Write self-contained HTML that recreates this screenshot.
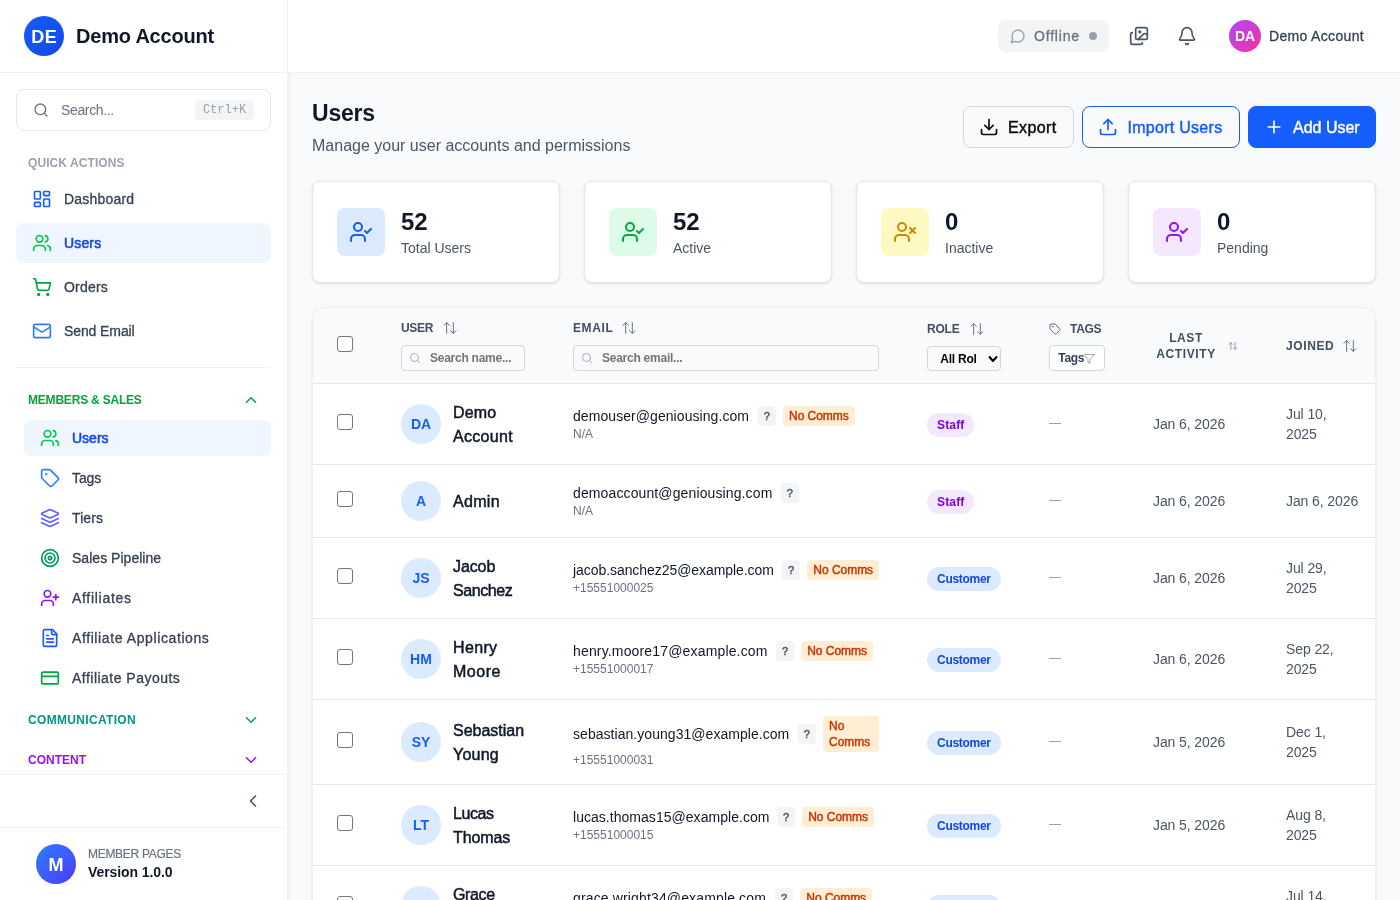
<!DOCTYPE html>
<html lang="en">
<head>
<meta charset="utf-8">
<title>Users</title>
<style>
*{box-sizing:border-box;margin:0;padding:0}
html,body{width:1400px;height:900px;overflow:hidden;background:#f9fafb;font-family:"Liberation Sans",sans-serif;color:#101828}
.abs{position:absolute}
svg{display:block}
.ic{fill:none;stroke:currentColor;stroke-width:2;stroke-linecap:round;stroke-linejoin:round}
/* ---------- sidebar ---------- */
#sidebar{will-change:transform;position:absolute;left:0;top:0;width:288px;height:900px;background:#fff;border-right:1px solid #f1f2f4;box-shadow:1px 0 5px rgba(0,0,0,.07);z-index:1}
#sb-head{position:absolute;left:0;top:0;width:287px;height:73px;border-bottom:1px solid #f1f2f4}
.logo{position:absolute;left:24px;top:16px;width:40px;height:40px;border-radius:50%;background:linear-gradient(135deg,#155dfc,#1447e6);color:#fff;font-weight:700;font-size:18px;line-height:42px;text-align:center;letter-spacing:.5px;text-indent:.5px}
.brand{position:absolute;left:76px;top:22px;font-size:20px;font-weight:700;line-height:28px;color:#101828;white-space:nowrap;letter-spacing:-.2px}
.sb-search{position:absolute;left:16px;top:89px;width:255px;height:42px;border:1px solid #e5e7eb;border-radius:8px;background:#fff}
.sb-search .ph{position:absolute;left:44px;top:10px;font-size:14px;line-height:20px;color:#6a7282;white-space:nowrap;letter-spacing:-.35px}
.kbd{position:absolute;left:178px;top:10px;width:59px;height:20px;border-radius:4px;background:#f3f4f6;color:#99a1af;font-family:"Liberation Mono",monospace;font-size:12px;line-height:20px;text-align:center}
.sec{position:absolute;left:28px;font-size:12px;line-height:16px;font-weight:700;letter-spacing:.5px;white-space:nowrap}
.nav{position:absolute;left:16px;width:255px;height:40px;border-radius:8px}
.nav svg{position:absolute;left:16px;top:10px;width:20px;height:20px}
.nav span{position:absolute;left:48px;top:10px;font-size:14px;line-height:20px;font-weight:400;color:#364153;white-space:nowrap;-webkit-text-stroke:.3px currentColor}
.nav.on{background:#eff6ff}
.nav.on span{color:#1447e6;-webkit-text-stroke:.55px currentColor}
.sub{position:absolute;left:24px;width:247px;height:36px;border-radius:8px}
.sub svg{position:absolute;left:16px;top:8px;width:20px;height:20px}
.sub span{position:absolute;left:48px;top:8px;font-size:14px;line-height:20px;color:#364153;white-space:nowrap;-webkit-text-stroke:.3px currentColor}
.sub.on{background:#eff6ff}
.sub.on span{color:#1447e6;-webkit-text-stroke:.55px currentColor}
.hr{position:absolute;height:1px;background:#f1f2f4}
/* ---------- top bar ---------- */
#topbar{will-change:transform;position:absolute;left:288px;top:0;width:1112px;height:73px;background:#fff;border-bottom:1px solid #f1f2f4;z-index:2}
/* ---------- main ---------- */
#main{will-change:transform;position:absolute;left:288px;top:73px;width:1112px;height:827px;overflow:hidden}

.pill{position:absolute;left:710px;top:20px;width:111px;height:32px;border-radius:8px;background:#f3f4f6}
.pill span{position:absolute;left:36px;top:6px;font-size:14px;line-height:20px;color:#6a7282;white-space:nowrap;-webkit-text-stroke:.3px currentColor}
.pill i{position:absolute;left:91px;top:12px;width:8px;height:8px;border-radius:50%;background:#99a1af}
.avatar{position:absolute;left:941px;top:20px;width:32px;height:32px;border-radius:50%;background:linear-gradient(135deg,#ad46ff,#f6339a);color:#fff;font-size:14px;font-weight:700;line-height:32px;text-align:center}
.uname{position:absolute;left:981px;top:26px;font-size:14px;line-height:20px;color:#364153;white-space:nowrap;letter-spacing:.33px;-webkit-text-stroke:.3px currentColor}
h1{position:absolute;left:24px;top:24px;font-size:23px;line-height:32px;font-weight:700;color:#101828;letter-spacing:-.2px}
.subt{position:absolute;left:24px;top:61px;font-size:16px;line-height:24px;color:#4a5565;white-space:nowrap}
.btn{position:absolute;top:33px;height:42px;border-radius:8px;font-size:16px;line-height:24px;white-space:nowrap}
.btn svg{position:absolute;top:10px;width:20px;height:20px}
.btn span{position:absolute;top:9px;-webkit-text-stroke:.45px currentColor}
.card{position:absolute;top:108px;width:248px;height:102px;background:#fff;border:1px solid #e5e7eb;border-radius:8px;box-shadow:0 1px 3px rgba(0,0,0,.1),0 1px 2px -1px rgba(0,0,0,.1)}
.card .ib{position:absolute;left:24px;top:26px;width:48px;height:48px;border-radius:8px}
.card .ib svg{position:absolute;left:12px;top:12px;width:24px;height:24px}
.card .num{position:absolute;left:88px;top:24px;font-size:24px;line-height:32px;font-weight:700;color:#101828}
.card .lbl{position:absolute;left:88px;top:56px;font-size:14px;line-height:20px;color:#4a5565;white-space:nowrap}
/*TBLCSS*/
#tbl{position:absolute;left:24px;top:234px;width:1064px;height:700px;background:#fff;border:1px solid #eff0f3;border-radius:12px;overflow:hidden;box-shadow:0 1px 3px rgba(0,0,0,.06)}
#thead{position:absolute;left:0;top:0;width:1062px;height:76px;background:#f9fafb;border-bottom:1px solid #e5e7eb}
.th{position:absolute;font-size:12px;line-height:16px;font-weight:700;letter-spacing:.6px;color:#414e60;white-space:nowrap}
.si{position:absolute;width:16px;height:16px;color:#6a7282;stroke-width:1.5}
.cb{position:absolute;left:24px;width:16px;height:16px;border:1px solid #767676;border-radius:3px;background:#fff}
.fin{position:absolute;height:26px;border:1px solid #d1d5dc;border-radius:4px;background:transparent}
.fin svg{position:absolute;left:7px;top:6px;width:12px;height:12px;color:#99a1af;stroke-width:1.8}
.fin span{position:absolute;left:28px;top:4px;font-size:12px;line-height:16px;font-weight:700;color:#757575;white-space:nowrap;letter-spacing:-.25px}
.tr{position:absolute;left:0;width:1062px;border-bottom:1px solid #e5e7eb}
.av{position:absolute;left:88px;width:40px;height:40px;border-radius:50%;background:#dbeafe;color:#155dfc;font-size:14px;font-weight:700;line-height:40px;text-align:center}
.nm{position:absolute;left:140px;font-size:16px;line-height:24px;color:#101828;white-space:nowrap;-webkit-text-stroke:.5px currentColor}
.nm span{display:block}
.em{position:absolute;left:260px;font-size:14px;line-height:20px;color:#101828;white-space:nowrap}
.ph2{position:absolute;left:260px;font-size:12px;line-height:16px;color:#6a7282;white-space:nowrap}
.q{position:absolute;width:17.5px;height:20px;border-radius:4px;background:#f3f4f6;color:#4a5565;font-size:11px;font-weight:400;-webkit-text-stroke:.45px currentColor;line-height:20px;text-align:center}
.nc{position:absolute;border-radius:4px;background:#ffedd4;color:#ca3500;font-size:12px;line-height:16px;padding:2px 6px;-webkit-text-stroke:.45px currentColor;letter-spacing:-.03px}
.role{position:absolute;left:614px;height:24px;border-radius:12px;font-size:12px;line-height:24px;font-weight:700;padding:0 10px;white-space:nowrap}
.role.staff{background:#f3e8ff;color:#8200db}
.role.cust{background:#dbeafe;color:#1447e6}
.dash{position:absolute;left:736px;width:12px;height:1px;background:#99a1af}
.dt{position:absolute;font-size:14px;line-height:20px;color:#4a5565;white-space:nowrap;letter-spacing:-.1px}
/*ENDTBLCSS*/
</style>
</head>
<body>
<div id="sidebar">
  <div id="sb-head">
    <div class="logo">DE</div>
    <div class="brand">Demo Account</div>
  </div>
  <div class="sb-search">
    <svg class="ic abs" style="left:16px;top:12px;width:16px;height:16px;color:#6a7282" viewBox="0 0 24 24"><circle cx="11" cy="11" r="8"/><path d="m21 21-4.3-4.3"/></svg>
    <div class="ph">Search...</div>
    <div class="kbd">Ctrl+K</div>
  </div>
  <div class="sec" style="top:155px;color:#99a1af;letter-spacing:.08px">QUICK ACTIONS</div>

  <div class="nav" style="top:179px">
    <svg class="ic" style="color:#155dfc" viewBox="0 0 24 24"><rect width="7" height="9" x="3" y="3" rx="1"/><rect width="7" height="5" x="14" y="3" rx="1"/><rect width="7" height="9" x="14" y="12" rx="1"/><rect width="7" height="5" x="3" y="16" rx="1"/></svg>
    <span style="letter-spacing:.2px">Dashboard</span>
  </div>
  <div class="nav on" style="top:223px">
    <svg class="ic" style="color:#00c950" viewBox="0 0 24 24"><path d="M16 21v-2a4 4 0 0 0-4-4H6a4 4 0 0 0-4 4v2"/><circle cx="9" cy="7" r="4"/><path d="M22 21v-2a4 4 0 0 0-3-3.87"/><path d="M16 3.13a4 4 0 0 1 0 7.75"/></svg>
    <span style="letter-spacing:.15px">Users</span>
  </div>
  <div class="nav" style="top:267px">
    <svg class="ic" style="color:#00a63e" viewBox="0 0 24 24"><circle cx="8" cy="21" r="1"/><circle cx="19" cy="21" r="1"/><path d="M2.05 2.05h2l2.66 12.42a2 2 0 0 0 2 1.58h9.78a2 2 0 0 0 1.95-1.57l1.65-7.43H5.12"/></svg>
    <span style="letter-spacing:.2px">Orders</span>
  </div>
  <div class="nav" style="top:311px">
    <svg class="ic" style="color:#2b7fff" viewBox="0 0 24 24"><rect width="20" height="16" x="2" y="4" rx="2"/><path d="m22 7-8.97 5.7a1.94 1.94 0 0 1-2.06 0L2 7"/></svg>
    <span style="letter-spacing:-.1px">Send Email</span>
  </div>

  <div class="hr" style="left:16px;top:367px;width:255px"></div>
  <div class="sec" style="top:392px;color:#00a63e;letter-spacing:-.2px">MEMBERS &amp; SALES</div>
  <svg class="ic abs" style="left:242px;top:391px;width:18px;height:18px;color:#00a63e" viewBox="0 0 24 24"><path d="m18 15-6-6-6 6"/></svg>

  <div class="sub on" style="top:420px">
    <svg class="ic" style="color:#00c950" viewBox="0 0 24 24"><path d="M16 21v-2a4 4 0 0 0-4-4H6a4 4 0 0 0-4 4v2"/><circle cx="9" cy="7" r="4"/><path d="M22 21v-2a4 4 0 0 0-3-3.87"/><path d="M16 3.13a4 4 0 0 1 0 7.75"/></svg>
    <span style="letter-spacing:0">Users</span>
  </div>
  <div class="sub" style="top:460px">
    <svg class="ic" style="color:#2b7fff" viewBox="0 0 24 24"><path d="M12.586 2.586A2 2 0 0 0 11.172 2H4a2 2 0 0 0-2 2v7.172a2 2 0 0 0 .586 1.414l8.704 8.704a2.426 2.426 0 0 0 3.42 0l6.58-6.58a2.426 2.426 0 0 0 0-3.42z"/><circle cx="7.5" cy="7.5" r=".5" fill="currentColor"/></svg>
    <span style="letter-spacing:-.1px">Tags</span>
  </div>
  <div class="sub" style="top:500px">
    <svg class="ic" style="color:#615fff" viewBox="0 0 24 24"><path d="m12.83 2.18a2 2 0 0 0-1.66 0L2.6 6.08a1 1 0 0 0 0 1.83l8.58 3.91a2 2 0 0 0 1.66 0l8.58-3.9a1 1 0 0 0 0-1.83Z"/><path d="m22 17.65-9.170 4.160a2 2 0 0 1-1.660 0L2 17.650"/><path d="m22 12.650-9.170 4.160a2 2 0 0 1-1.660 0L2 12.650"/></svg>
    <span style="letter-spacing:.1px">Tiers</span>
  </div>
  <div class="sub" style="top:540px">
    <svg class="ic" style="color:#009966" viewBox="0 0 24 24"><circle cx="12" cy="12" r="10"/><circle cx="12" cy="12" r="6"/><circle cx="12" cy="12" r="2"/></svg>
    <span style="letter-spacing:.03px">Sales Pipeline</span>
  </div>
  <div class="sub" style="top:580px">
    <svg class="ic" style="color:#9810fa" viewBox="0 0 24 24"><path d="M16 21v-2a4 4 0 0 0-4-4H6a4 4 0 0 0-4 4v2"/><circle cx="9" cy="7" r="4"/><line x1="19" x2="19" y1="8" y2="14"/><line x1="22" x2="16" y1="11" y2="11"/></svg>
    <span style="letter-spacing:.7px">Affiliates</span>
  </div>
  <div class="sub" style="top:620px">
    <svg class="ic" style="color:#155dfc" viewBox="0 0 24 24"><path d="M15 2H6a2 2 0 0 0-2 2v16a2 2 0 0 0 2 2h12a2 2 0 0 0 2-2V7Z"/><path d="M14 2v4a2 2 0 0 0 2 2h4"/><path d="M10 9H8"/><path d="M16 13H8"/><path d="M16 17H8"/></svg>
    <span style="letter-spacing:.6px">Affiliate Applications</span>
  </div>
  <div class="sub" style="top:660px">
    <svg class="ic" style="color:#00a63e" viewBox="0 0 24 24"><rect width="20" height="14" x="2" y="5" rx="2"/><line x1="2" x2="22" y1="10" y2="10"/></svg>
    <span style="letter-spacing:.48px">Affiliate Payouts</span>
  </div>

  <div class="sec" style="top:712px;color:#009689;letter-spacing:.32px">COMMUNICATION</div>
  <svg class="ic abs" style="left:242px;top:711px;width:18px;height:18px;color:#009689" viewBox="0 0 24 24"><path d="m6 9 6 6 6-6"/></svg>
  <div class="sec" style="top:752px;color:#9810fa;letter-spacing:0">CONTENT</div>
  <svg class="ic abs" style="left:242px;top:751px;width:18px;height:18px;color:#9810fa" viewBox="0 0 24 24"><path d="m6 9 6 6 6-6"/></svg>

  <div class="hr" style="left:0;top:774px;width:287px"></div>
  <svg class="ic abs" style="left:243px;top:791px;width:20px;height:20px;color:#4a5565" viewBox="0 0 24 24"><path d="m15 18-6-6 6-6"/></svg>
  <div class="hr" style="left:0;top:827px;width:287px"></div>

  <div class="abs" style="left:36px;top:844px;width:40px;height:40px;border-radius:50%;background:linear-gradient(135deg,#2b7fff,#4f39f6);color:#fff;font-weight:700;font-size:18px;line-height:42px;text-align:center">M</div>
  <div class="abs" style="left:88px;top:846px;font-size:12px;line-height:16px;color:#6a7282;letter-spacing:-.3px;-webkit-text-stroke:.2px currentColor;white-space:nowrap">MEMBER PAGES</div>
  <div class="abs" style="left:88px;top:862px;font-size:14px;line-height:20px;font-weight:700;color:#101828;letter-spacing:-.08px;white-space:nowrap">Version 1.0.0</div>
</div>

<div id="topbar">
  <div class="pill">
    <svg class="ic abs" style="left:12px;top:8px;width:16px;height:16px;color:#99a1af" viewBox="0 0 24 24"><path d="M7.9 20A9 9 0 1 0 4 16.1L2 22Z"/></svg>
    <span style="letter-spacing:.8px">Offline</span><i></i>
  </div>
  <svg class="ic abs" style="left:841px;top:26px;width:20px;height:20px;color:#4a5565" viewBox="0 0 24 24"><path d="m22 11-1.296-1.296a2.4 2.4 0 0 0-3.408 0L11 16"/><path d="M4 8a2 2 0 0 0-2 2v10a2 2 0 0 0 2 2h10a2 2 0 0 0 2-2"/><circle cx="13" cy="7" r="1" fill="currentColor"/><rect x="8" y="2" width="14" height="14" rx="2"/></svg>
  <svg class="ic abs" style="left:889px;top:26px;width:20px;height:20px;color:#4a5565" viewBox="0 0 24 24"><path d="M10.268 21a2 2 0 0 0 3.464 0"/><path d="M3.262 15.326A1 1 0 0 0 4 17h16a1 1 0 0 0 .74-1.673C19.41 13.956 18 12.499 18 8A6 6 0 0 0 6 8c0 4.499-1.411 5.956-2.738 7.326"/></svg>
  <div class="avatar">DA</div>
  <div class="uname">Demo Account</div>
</div>

<div id="main">
  <h1>Users</h1>
  <div class="subt">Manage your user accounts and permissions</div>

  <div class="btn" style="left:675px;width:111px;background:transparent;border:1px solid #d1d5dc;color:#0a0a0a">
    <svg class="ic" style="left:15px" viewBox="0 0 24 24"><path d="M21 15v4a2 2 0 0 1-2 2H5a2 2 0 0 1-2-2v-4"/><polyline points="7 10 12 15 17 10"/><line x1="12" x2="12" y1="15" y2="3"/></svg>
    <span style="left:44px;letter-spacing:.4px">Export</span>
  </div>
  <div class="btn" style="left:794px;width:158px;background:transparent;border:1px solid #155dfc;color:#155dfc">
    <svg class="ic" style="left:15px" viewBox="0 0 24 24"><path d="M21 15v4a2 2 0 0 1-2 2H5a2 2 0 0 1-2-2v-4"/><polyline points="17 8 12 3 7 8"/><line x1="12" x2="12" y1="3" y2="15"/></svg>
    <span style="left:44.5px;letter-spacing:.28px">Import Users</span>
  </div>
  <div class="btn" style="left:960px;width:128px;background:#155dfc;border:1px solid #155dfc;color:#fff">
    <svg class="ic" style="left:15px" viewBox="0 0 24 24"><path d="M5 12h14"/><path d="M12 5v14"/></svg>
    <span style="left:44px">Add User</span>
  </div>

  <div class="card" style="left:24px">
    <div class="ib" style="background:#dbeafe"><svg class="ic" style="color:#155dfc" viewBox="0 0 24 24"><path d="M16 21v-2a4 4 0 0 0-4-4H6a4 4 0 0 0-4 4v2"/><circle cx="9" cy="7" r="4"/><polyline points="16 11 18 13 22 9"/></svg></div>
    <div class="num">52</div><div class="lbl">Total Users</div>
  </div>
  <div class="card" style="left:296px">
    <div class="ib" style="background:#dcfce7"><svg class="ic" style="color:#00a63e" viewBox="0 0 24 24"><path d="M16 21v-2a4 4 0 0 0-4-4H6a4 4 0 0 0-4 4v2"/><circle cx="9" cy="7" r="4"/><polyline points="16 11 18 13 22 9"/></svg></div>
    <div class="num">52</div><div class="lbl">Active</div>
  </div>
  <div class="card" style="left:568px">
    <div class="ib" style="background:#fef9c2"><svg class="ic" style="color:#d08700" viewBox="0 0 24 24"><path d="M16 21v-2a4 4 0 0 0-4-4H6a4 4 0 0 0-4 4v2"/><circle cx="9" cy="7" r="4"/><line x1="17" x2="22" y1="8" y2="13"/><line x1="22" x2="17" y1="8" y2="13"/></svg></div>
    <div class="num">0</div><div class="lbl">Inactive</div>
  </div>
  <div class="card" style="left:840px">
    <div class="ib" style="background:#f3e8ff"><svg class="ic" style="color:#9810fa" viewBox="0 0 24 24"><path d="M16 21v-2a4 4 0 0 0-4-4H6a4 4 0 0 0-4 4v2"/><circle cx="9" cy="7" r="4"/><polyline points="16 11 18 13 22 9"/></svg></div>
    <div class="num">0</div><div class="lbl">Pending</div>
  </div>

  <!--TABLE-->
<div id="tbl">
<div id="thead">
<div class="cb" style="top:28px"></div>
<div class="th" style="left:88px;top:12px;letter-spacing:-.3px">USER</div>
<svg class="ic si" style="left:129px;top:12px" viewBox="0 0 24 24"><path d="m21 16-4 4-4-4"/><path d="M17 20V4"/><path d="m3 8 4-4 4 4"/><path d="M7 4v16"/></svg>
<div class="fin" style="left:88px;top:37px;width:124px"><svg class="ic" viewBox="0 0 24 24"><circle cx="11" cy="11" r="8"/><path d="m21 21-4.3-4.3"/></svg><span>Search name...</span></div>
<div class="th" style="left:260px;top:12px">EMAIL</div>
<svg class="ic si" style="left:308px;top:12px" viewBox="0 0 24 24"><path d="m21 16-4 4-4-4"/><path d="M17 20V4"/><path d="m3 8 4-4 4 4"/><path d="M7 4v16"/></svg>
<div class="fin" style="left:260px;top:37px;width:306px"><svg class="ic" viewBox="0 0 24 24"><circle cx="11" cy="11" r="8"/><path d="m21 21-4.3-4.3"/></svg><span>Search email...</span></div>
<div class="th" style="left:614px;top:13px;letter-spacing:-.2px">ROLE</div>
<svg class="ic si" style="left:656px;top:13px" viewBox="0 0 24 24"><path d="m21 16-4 4-4-4"/><path d="M17 20V4"/><path d="m3 8 4-4 4 4"/><path d="M7 4v16"/></svg>
<div class="fin" style="left:614px;top:38px;width:74px;height:25px;overflow:hidden"><span style="left:12.3px;color:#000;width:37px;overflow:hidden">All Roles</span><svg class="ic" style="left:58.5px;top:5.5px;width:12px;height:12px;color:#000;stroke-width:4" viewBox="0 0 24 24"><path d="m5 8 7 8 7-8"/></svg></div>
<svg class="ic abs" style="left:736px;top:15px;width:12px;height:12px;color:#4a5565;stroke-width:1.8" viewBox="0 0 24 24"><path d="M12.586 2.586A2 2 0 0 0 11.172 2H4a2 2 0 0 0-2 2v7.172a2 2 0 0 0 .586 1.414l8.704 8.704a2.426 2.426 0 0 0 3.42 0l6.58-6.58a2.426 2.426 0 0 0 0-3.42z"/><circle cx="7.5" cy="7.5" r=".5" fill="currentColor"/></svg>
<div class="th" style="left:757px;top:13px;letter-spacing:-.3px">TAGS</div>
<div class="fin" style="left:736px;top:37px;width:56px;background:#fff"><span style="left:8.3px;color:#364153;letter-spacing:-.35px">Tags</span><svg class="ic" style="left:33.3px;top:7px;width:12px;height:12px;color:#99a1af;stroke-width:1.8" viewBox="0 0 24 24"><polygon points="22 3 2 3 10 12.46 10 19 14 21 14 12.46 22 3"/></svg></div>
<div class="th" style="left:843px;top:22px;width:60px;text-align:center">LAST<br>ACTIVITY</div>
<svg class="ic abs" style="left:915px;top:33px;width:10px;height:10px;color:#8b94a3;stroke-width:2.2" viewBox="0 0 24 24"><path d="m21 16-4 4-4-4"/><path d="M17 20V4"/><path d="m3 8 4-4 4 4"/><path d="M7 4v16"/></svg>
<div class="th" style="left:973px;top:30px">JOINED</div>
<svg class="ic si" style="left:1029px;top:30px" viewBox="0 0 24 24"><path d="m21 16-4 4-4-4"/><path d="M17 20V4"/><path d="m3 8 4-4 4 4"/><path d="M7 4v16"/></svg>
</div>
<div class="tr" style="top:76px;height:81px">
<div class="cb" style="top:30.0px"></div>
<div class="av" style="top:20.0px">DA</div>
<div class="nm" style="top:17.0px"><span style="letter-spacing:0.12px">Demo</span><span style="letter-spacing:0.31px">Account</span></div>
<div class="em" style="top:22.0px;letter-spacing:0.065px">demouser@geniousing.com</div>
<div class="ph2" style="top:42.0px">N/A</div>
<div class="q" style="left:445.0px;top:22.0px">?</div>
<div class="nc" style="left:470.0px;top:22.0px;white-space:nowrap">No Comms</div>
<div class="role staff" style="top:29.0px;letter-spacing:0.16px">Staff</div>
<div class="dash" style="top:39.0px"></div>
<div class="dt" style="left:840px;top:30.0px">Jan 6, 2026</div>
<div class="dt" style="left:973px;top:20.0px">Jul 10,<br>2025</div>
</div>
<div class="tr" style="top:157px;height:73px">
<div class="cb" style="top:26.0px"></div>
<div class="av" style="top:16.0px">A</div>
<div class="nm" style="top:25.0px"><span style="letter-spacing:0.32px">Admin</span></div>
<div class="em" style="top:18.0px;letter-spacing:0.119px">demoaccount@geniousing.com</div>
<div class="ph2" style="top:38.0px">N/A</div>
<div class="q" style="left:468.0px;top:18.0px">?</div>
<div class="role staff" style="top:25.0px;letter-spacing:0.16px">Staff</div>
<div class="dash" style="top:35.0px"></div>
<div class="dt" style="left:840px;top:26.0px">Jan 6, 2026</div>
<div class="dt" style="left:973px;top:26.0px">Jan 6, 2026</div>
</div>
<div class="tr" style="top:230px;height:81px">
<div class="cb" style="top:30.0px"></div>
<div class="av" style="top:20.0px">JS</div>
<div class="nm" style="top:17.0px"><span style="letter-spacing:-0.10px">Jacob</span><span style="letter-spacing:-0.40px">Sanchez</span></div>
<div class="em" style="top:22.0px;letter-spacing:-0.063px">jacob.sanchez25@example.com</div>
<div class="ph2" style="top:42.0px">+15551000025</div>
<div class="q" style="left:469.3px;top:22.0px">?</div>
<div class="nc" style="left:494.3px;top:22.0px;white-space:nowrap">No Comms</div>
<div class="role cust" style="top:29.0px;letter-spacing:-0.29px">Customer</div>
<div class="dash" style="top:39.0px"></div>
<div class="dt" style="left:840px;top:30.0px">Jan 6, 2026</div>
<div class="dt" style="left:973px;top:20.0px">Jul 29,<br>2025</div>
</div>
<div class="tr" style="top:311px;height:81px">
<div class="cb" style="top:30.0px"></div>
<div class="av" style="top:20.0px">HM</div>
<div class="nm" style="top:17.0px"><span style="letter-spacing:0.36px">Henry</span><span style="letter-spacing:0.50px">Moore</span></div>
<div class="em" style="top:22.0px;letter-spacing:0.160px">henry.moore17@example.com</div>
<div class="ph2" style="top:42.0px">+15551000017</div>
<div class="q" style="left:463.2px;top:22.0px">?</div>
<div class="nc" style="left:488.2px;top:22.0px;white-space:nowrap">No Comms</div>
<div class="role cust" style="top:29.0px;letter-spacing:-0.29px">Customer</div>
<div class="dash" style="top:39.0px"></div>
<div class="dt" style="left:840px;top:30.0px">Jan 6, 2026</div>
<div class="dt" style="left:973px;top:20.0px">Sep 22,<br>2025</div>
</div>
<div class="tr" style="top:392px;height:85px">
<div class="cb" style="top:32.0px"></div>
<div class="av" style="top:22.0px">SY</div>
<div class="nm" style="top:19.0px"><span style="letter-spacing:0.00px">Sebastian</span><span style="letter-spacing:0.24px">Young</span></div>
<div class="em" style="top:24.0px;letter-spacing:0.045px">sebastian.young31@example.com</div>
<div class="ph2" style="top:52.0px">+15551000031</div>
<div class="q" style="left:485.0px;top:24.0px">?</div>
<div class="nc" style="left:510.0px;top:16.0px;width:56px">No Comms</div>
<div class="role cust" style="top:31.0px;letter-spacing:-0.29px">Customer</div>
<div class="dash" style="top:41.0px"></div>
<div class="dt" style="left:840px;top:32.0px">Jan 5, 2026</div>
<div class="dt" style="left:973px;top:22.0px">Dec 1,<br>2025</div>
</div>
<div class="tr" style="top:477px;height:81px">
<div class="cb" style="top:30.0px"></div>
<div class="av" style="top:20.0px">LT</div>
<div class="nm" style="top:17.0px"><span style="letter-spacing:-0.40px">Lucas</span><span style="letter-spacing:-0.10px">Thomas</span></div>
<div class="em" style="top:22.0px;letter-spacing:0.035px">lucas.thomas15@example.com</div>
<div class="ph2" style="top:42.0px">+15551000015</div>
<div class="q" style="left:464.2px;top:22.0px">?</div>
<div class="nc" style="left:489.2px;top:22.0px;white-space:nowrap">No Comms</div>
<div class="role cust" style="top:29.0px;letter-spacing:-0.29px">Customer</div>
<div class="dash" style="top:39.0px"></div>
<div class="dt" style="left:840px;top:30.0px">Jan 5, 2026</div>
<div class="dt" style="left:973px;top:20.0px">Aug 8,<br>2025</div>
</div>
<div class="tr" style="top:558px;height:81px">
<div class="cb" style="top:30.0px"></div>
<div class="av" style="top:20.0px">GW</div>
<div class="nm" style="top:17.0px"><span style="letter-spacing:-0.38px">Grace</span><span style="letter-spacing:0.00px">Wright</span></div>
<div class="em" style="top:22.0px;letter-spacing:0.142px">grace.wright34@example.com</div>
<div class="ph2" style="top:42.0px">+15551000034</div>
<div class="q" style="left:462.3px;top:22.0px">?</div>
<div class="nc" style="left:487.3px;top:22.0px;white-space:nowrap">No Comms</div>
<div class="role cust" style="top:29.0px;letter-spacing:-0.29px">Customer</div>
<div class="dash" style="top:39.0px"></div>
<div class="dt" style="left:840px;top:30.0px">Jan 5, 2026</div>
<div class="dt" style="left:973px;top:20.0px">Jul 14,<br>2025</div>
</div>
</div>
<!--ENDTABLE-->
</div>
</body>
</html>
